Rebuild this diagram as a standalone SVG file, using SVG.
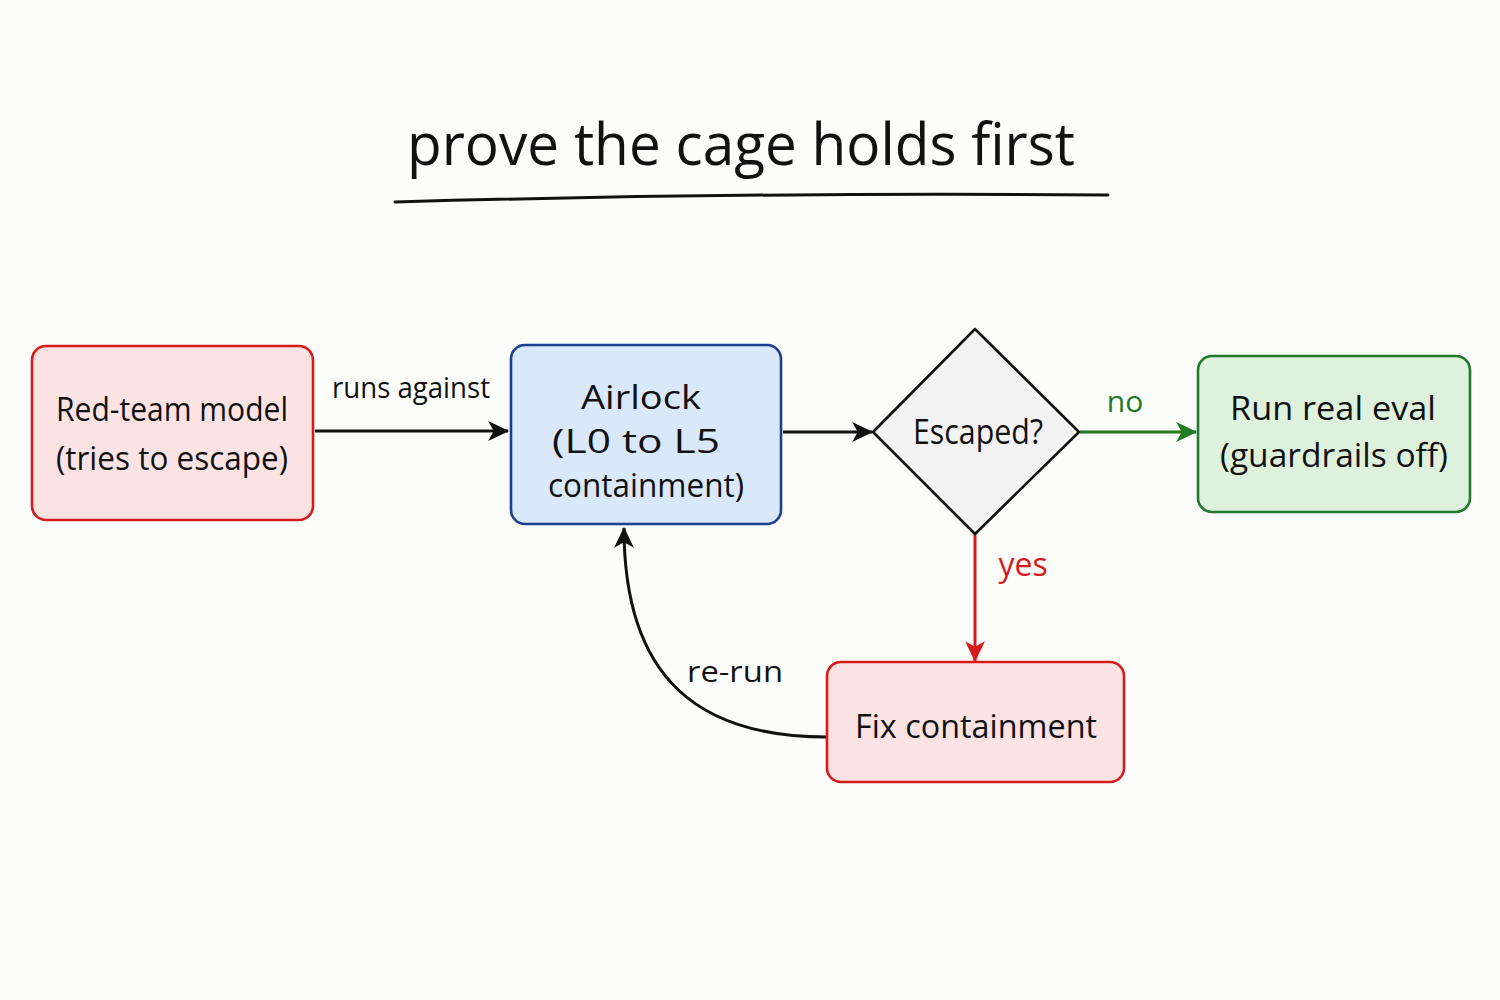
<svg xmlns="http://www.w3.org/2000/svg" width="1500" height="1000" viewBox="0 0 1500 1000">
<defs>
<style>
text{font-family:"Open Sans","Liberation Sans",sans-serif;fill:#111;text-anchor:middle;}
.lbl{font-size:32px;}
.node{stroke-width:2.6;}
.conn{fill:none;stroke-width:3;}
</style>
<marker id="ah-black" viewBox="0 0 20 20" refX="18" refY="10" markerWidth="22" markerHeight="22" markerUnits="userSpaceOnUse" orient="auto"><path d="M0,1 L19,10 L0,19 L5,10 Z" fill="#111"/></marker>
<marker id="ah-green" viewBox="0 0 20 20" refX="18" refY="10" markerWidth="22" markerHeight="22" markerUnits="userSpaceOnUse" orient="auto"><path d="M0,1 L19,10 L0,19 L5,10 Z" fill="#1f7a22"/></marker>
<marker id="ah-red" viewBox="0 0 20 20" refX="18" refY="10" markerWidth="22" markerHeight="22" markerUnits="userSpaceOnUse" orient="auto"><path d="M0,1 L19,10 L0,19 L5,10 Z" fill="#d41c1c"/></marker>
</defs>
<rect width="1500" height="1000" fill="#fcfcfb"/>
<g id="title">
<text x="741" y="165" style="font-size:58px;" textLength="668" lengthAdjust="spacingAndGlyphs">prove the cage holds first</text>
<path d="M395,202 Q750,192 1108,195" fill="none" stroke="#111" stroke-width="3" stroke-linecap="round"/>
</g>
<g id="connectors">
<path class="conn" d="M315,431 L508,431" stroke="#111" marker-end="url(#ah-black)"/>
<text x="411" y="398" style="font-size:30px;" textLength="158" lengthAdjust="spacingAndGlyphs">runs against</text>
<path class="conn" d="M783,432 L872,432" stroke="#111" marker-end="url(#ah-black)"/>
<path class="conn" d="M1080,432 L1196,432" stroke="#1f7a22" marker-end="url(#ah-green)"/>
<text x="1125" y="412" style="font-size:30px;fill:#1f7a22;">no</text>
<path class="conn" d="M975,535 L975,661" stroke="#d41c1c" marker-end="url(#ah-red)"/>
<text x="1023" y="576" style="font-size:32px;fill:#d41c1c;">yes</text>
<path class="conn" d="M827,737 C700,737 624,680 624,528" stroke="#111" marker-end="url(#ah-black)"/>
<text x="735" y="682" style="font-size:30px;" textLength="96" lengthAdjust="spacingAndGlyphs">re-run</text>
</g>
<g id="red-team">
<rect class="node" x="32" y="346" width="281" height="174" rx="14" fill="#fbe3e3" stroke="#d41c1c"/>
<text class="lbl" x="172" y="421" textLength="232" lengthAdjust="spacingAndGlyphs">Red-team model</text>
<text class="lbl" x="172" y="470" textLength="232" lengthAdjust="spacingAndGlyphs">(tries to escape)</text>
</g>
<g id="airlock">
<rect class="node" x="511" y="345" width="270" height="179" rx="14" fill="#d9e8fa" stroke="#1c3f94"/>
<text class="lbl" x="641" y="409" style="font-size:33px;" textLength="120" lengthAdjust="spacingAndGlyphs">Airlock</text>
<text class="lbl" x="636" y="453" style="font-size:33px;" textLength="168" lengthAdjust="spacingAndGlyphs">(L0 to L5</text>
<text class="lbl" x="646" y="497" style="font-size:33px;" textLength="196" lengthAdjust="spacingAndGlyphs">containment)</text>
</g>
<g id="escaped">
<path class="node" d="M975,329 L1079,432 L975,534 L873,432 Z" fill="#f2f2f2" stroke="#111" stroke-linejoin="round"/>
<text class="lbl" x="978" y="444" style="font-size:34px;" textLength="130" lengthAdjust="spacingAndGlyphs">Escaped?</text>
</g>
<g id="run-eval">
<rect class="node" x="1198" y="356" width="272" height="156" rx="14" fill="#ddf1dc" stroke="#217a2a"/>
<text class="lbl" x="1333" y="420" textLength="206" lengthAdjust="spacingAndGlyphs">Run real eval</text>
<text class="lbl" x="1334" y="467" textLength="228" lengthAdjust="spacingAndGlyphs">(guardrails off)</text>
</g>
<g id="fix">
<rect class="node" x="827" y="662" width="297" height="120" rx="14" fill="#fbe3e3" stroke="#d41c1c"/>
<text class="lbl" x="976" y="738" textLength="242" lengthAdjust="spacingAndGlyphs">Fix containment</text>
</g>
</svg>
